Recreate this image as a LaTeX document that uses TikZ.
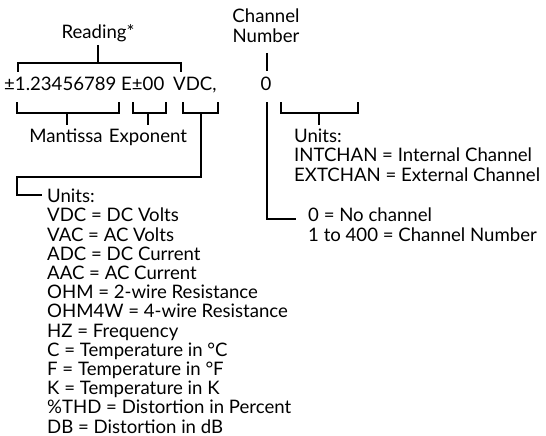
\documentclass[tikz,border=0pt]{standalone}
\usepackage{fontspec}
\setmainfont{Lato}
\usetikzlibrary{positioning}
\tikzset{
  brk/.style={line width=1.7pt, line join=miter},
  lbl/.style={inner sep=0pt, font=\fontsize{18.6}{19.2}\selectfont},
}

\begin{document}
\begin{tikzpicture}[x=1pt, y=-1pt]
  \useasboundingbox (0,0) rectangle (546,436);
  % headings
  \node[lbl, anchor=base] (reading) at (98,39) {Reading*};
  \node[lbl, anchor=north, align=center] (chan) at (266,9) {Channel\\Number};
  % reading string
  \node[lbl, anchor=base west] (mant) at (4,90) {±1.23456789};
  \node[lbl, anchor=base west] (expo) at (121,90) {E±00};
  \node[lbl, anchor=base west] (unit) at (173,90) {VDC,};
  \node[lbl, anchor=base] (chnum) at (266,90) {0};
  % upper brackets
  \draw[brk] (98,45) -- (98,63);
  \draw[brk] (18,72) -- (18,63) -- (181,63) -- (181,72);
  \draw[brk] (267,53) -- (267,71);
  % lower brackets
  \draw[brk] (17,102) -- (17,113) -- (119,113) -- (119,102);
  \draw[brk] (67,113) -- (67,125);
  \draw[brk] (133,102) -- (133,113) -- (166,113) -- (166,102);
  \draw[brk] (148,113) -- (148,125);
  \draw[brk] (183,102) -- (183,113) -- (218,113) -- (218,102);
  \draw[brk] (201,113) -- (201,177) -- (17,177) -- (17,195) -- (42,195);
  \draw[brk] (281,102) -- (281,113) -- (358,113) -- (358,102);
  \draw[brk] (319,113) -- (319,125);
  \draw[brk] (267,102) -- (267,219) -- (296,219);
  % labels
  \node[lbl, anchor=base] (mantlbl) at (66,142) {Mantissa};
  \node[lbl, anchor=base] (expolbl) at (148,142) {Exponent};
  \node[lbl, anchor=north west, align=left] (unitlist) at (47,189)
    {Units:\\
     VDC = DC Volts\\
     VAC = AC Volts\\
     ADC = DC Current\\
     AAC = AC Current\\
     OHM = 2-wire Resistance\\
     OHM4W = 4-wire Resistance\\
     HZ = Frequency\\
     C = Temperature in °C\\
     F = Temperature in °F\\
     K = Temperature in K\\
     \%THD = Distortion in Percent\\
     DB = Distortion in dB};
  \node[lbl, anchor=north west, align=left] (chunits) at (294,129)
    {Units:\\
     INTCHAN = Internal Channel\\
     EXTCHAN = External Channel};
  \node[lbl, anchor=north west, align=left] (chvals) at (308,208)
    {0 = No channel\\
     1 to 400 = Channel Number};
\end{tikzpicture}
\end{document}
